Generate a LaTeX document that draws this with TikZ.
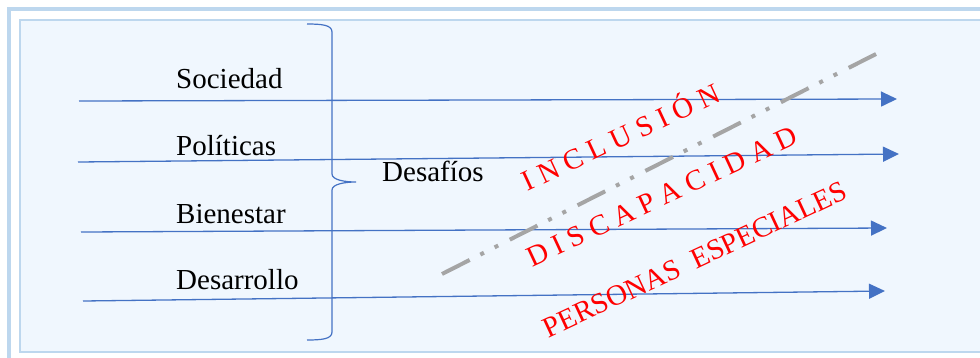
\documentclass[tikz,border=0pt]{standalone}
\usepackage{fontspec}
\setmainfont{Liberation Serif}
\usetikzlibrary{arrows.meta}
\definecolor{frameblue}{HTML}{BDD7EE}
\definecolor{fillblue}{HTML}{F0F7FE}
\definecolor{arrowblue}{HTML}{4472C4}
\definecolor{dashgrey}{HTML}{A5A5A5}
\tikzset{
  lbl/.style={font=\fontsize{29}{34}\selectfont, inner sep=0pt, anchor=base west, text=black},
  redlbl/.style={font=\fontsize{29}{34}\selectfont, inner sep=0pt, anchor=base, text=red, rotate=25},
  flow/.style={draw=arrowblue, line width=1.3pt, -{Triangle[length=16pt,width=15pt]}},
  bracestyle/.style={draw=arrowblue, line width=1.2pt},
  dashdot/.style={draw=dashgrey, line width=4pt, dash pattern=on 31pt off 12pt on 4pt off 12pt on 4pt off 13pt}
}
\begin{document}
\begin{tikzpicture}[x=1pt,y=-1pt]
\useasboundingbox (0,0) rectangle (980,357);
% frame
\draw[frameblue, line width=4pt] (9,9) rectangle (1000,380);
\draw[frameblue, fill=fillblue, line width=1.5pt] (20,20) rectangle (1000,352);
% arrow endpoints
\coordinate (s1) at (79,101);  \coordinate (e1) at (897,99);
\coordinate (s2) at (78,162);  \coordinate (e2) at (899,154);
\coordinate (s3) at (81,232);  \coordinate (e3) at (887,228);
\coordinate (s4) at (83,301);  \coordinate (e4) at (885,291);
\draw[flow] (s1) -- (e1);
\draw[flow] (s2) -- (e2);
\draw[flow] (s3) -- (e3);
\draw[flow] (s4) -- (e4);
% labels
\node[lbl] (soc) at (176,88) {Sociedad};
\node[lbl] (pol) at (176,155) {Políticas};
\node[lbl] (bie) at (176,223) {Bienestar};
\node[lbl] (des) at (176,289) {Desarrollo};
\node[lbl] (daf) at (382,181) {Desafíos};
% brace
\coordinate (bt) at (307,24);
\coordinate (bb) at (307,340);
\coordinate (btip) at (356,182);
\draw[bracestyle] (bt) .. controls (322,24) and (332,25) .. (332,32) -- (332,174)
  .. controls (332,180) and (345,182) .. (btip)
  .. controls (345,182) and (332,184) .. (332,190) -- (332,332)
  .. controls (332,339) and (322,340) .. (bb);
% dash-dot line
\coordinate (da) at (442,274);
\coordinate (db) at (876,54);
\draw[dashdot] (da) -- (db);
% red words
\node[redlbl] (inc) at (625,146) {I N C L U S I Ó N};
\node[redlbl] (dis) at (666,205) {D I S C A P A C I D A D};
\node[redlbl] (per) at (699,268) {PERSONAS\ \ ESPECIALES};
\end{tikzpicture}
\end{document}
